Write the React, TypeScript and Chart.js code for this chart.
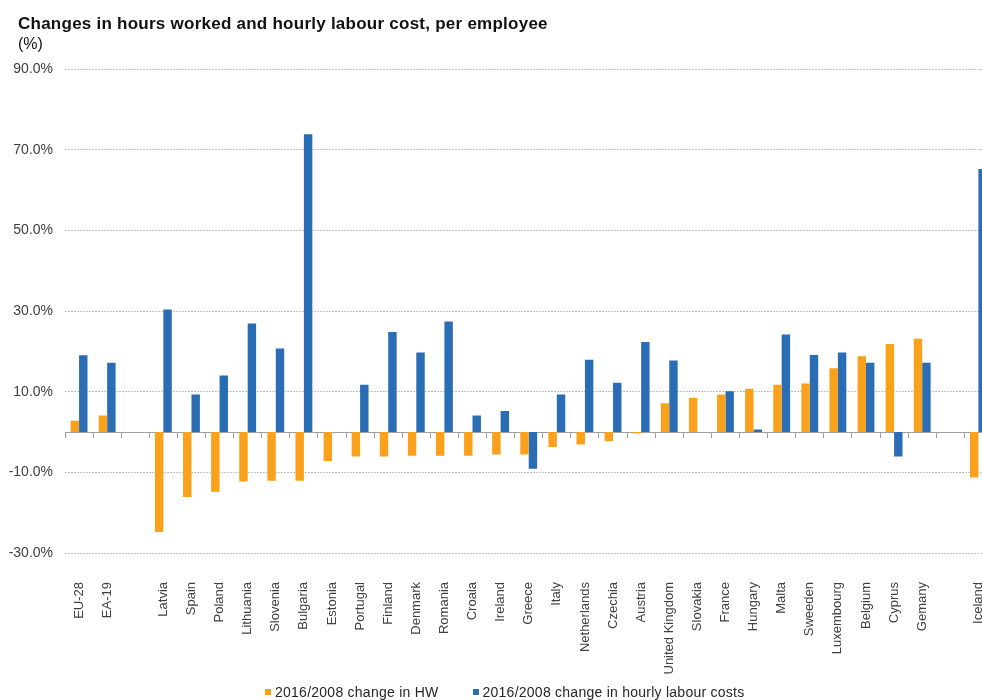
import React, { useEffect, useRef } from 'react';
import { Chart, registerables } from 'chart.js';

Chart.register(...registerables);

// Countries in display order; empty strings leave a gap between groups.
const categories = [
  'EU-28', 'EA-19', '', 'Latvia', 'Spain', 'Poland', 'Lithuania', 'Slovenia', 'Bulgaria',
  'Estonia', 'Portugal', 'Finland', 'Denmark', 'Romania', 'Croaia', 'Ireland', 'Greece',
  'Italy', 'Netherlands', 'Czechia', 'Austria', 'United Kingdom', 'Slovakia', 'France',
  'Hungary', 'Malta', 'Sweeden', 'Luxembourg', 'Belgium', 'Cyprus', 'Gemany', '', 'Iceland',
];

// 2016/2008 change in hours worked per employee (%)
const hoursWorked = [
  2.8, 4.1, null, -24.8, -16.1, -14.8, -12.3, -12.1, -12.1,
  -7.2, -6.1, -6.1, -5.9, -5.9, -5.9, -5.6, -5.6,
  -3.7, -3.1, -2.3, -0.4, 7.1, 8.5, 9.3,
  10.7, 11.7, 12.0, 15.8, 18.8, 21.8, 23.1, null, -11.3,
];

// 2016/2008 change in hourly labour costs (%)
const labourCost = [
  19.0, 17.2, null, 30.4, 9.3, 14.0, 26.9, 20.7, 73.8,
  null, 11.7, 24.8, 19.7, 27.4, 4.1, 5.2, -9.1,
  9.3, 17.9, 12.2, 22.3, 17.7, null, 10.1,
  0.6, 24.2, 19.1, 19.7, 17.2, -6.1, 17.2, null, 65.2,
];

const yTicks = [-30, -10, 10, 30, 50, 70, 90];

const series = [
  { label: '2016/2008 change in HW', color: '#f9a11b', data: hoursWorked },
  { label: '2016/2008 change in hourly labour costs', color: '#2a6db4', data: labourCost },
];

const FONT = '"Liberation Sans", Arial, Helvetica, sans-serif';
const TEXT = '#404040';

export default function App() {
  const canvasRef = useRef<HTMLCanvasElement>(null);

  useEffect(() => {
    const canvas = canvasRef.current;
    if (!canvas) return;
    const chart = new Chart(canvas, {
      type: 'bar',
      data: {
        labels: categories,
        datasets: series.map((s) => ({
          label: s.label,
          data: s.data,
          backgroundColor: s.color,
          borderWidth: 0,
        })),
      },
      options: {
        responsive: false,
        animation: false,
        layout: { padding: { top: 69, left: 7, right: 0, bottom: 0 } },
        datasets: { bar: { categoryPercentage: 0.6, barPercentage: 1 } },
        scales: {
          x: {
            grid: { display: false },
            border: { display: false },
            ticks: {
              autoSkip: false,
              minRotation: 90,
              maxRotation: 90,
              padding: 21,
              color: TEXT,
              font: { family: FONT, size: 13 },
            },
            afterFit: (scale: any) => {
              scale.height = 147;
            },
          },
          // zero line with category tick marks
          x0: {
            type: 'category',
            axis: 'x',
            position: { y: 0 },
            offset: true,
            grid: {
              offset: true,
              drawOnChartArea: false,
              drawTicks: true,
              tickLength: 5,
              color: '#a0a0a0',
            },
            border: { display: true, color: '#a0a0a0', width: 1 },
            ticks: { display: false },
          } as any,
          y: {
            min: -30,
            max: 90,
            afterBuildTicks: (scale: any) => {
              scale.ticks = yTicks.map((v) => ({ value: v }));
            },
            afterFit: (scale: any) => {
              scale.width = 58;
            },
            grid: { color: '#c4c4c4', drawTicks: false, lineWidth: 1 },
            border: { display: false, dash: [2, 1] },
            ticks: {
              padding: 12,
              color: TEXT,
              font: { family: FONT, size: 14 },
              callback: (v: any) => `${Number(v).toFixed(1)}%`,
            },
          },
        },
        plugins: {
          legend: { display: false },
          tooltip: { enabled: false },
        },
      },
    });
    return () => chart.destroy();
  }, []);

  return (
    <div
      style={{
        position: 'fixed',
        left: 0,
        top: 0,
        width: 982,
        height: 700,
        overflow: 'hidden',
        background: '#ffffff',
      }}
    >
      <canvas
        ref={canvasRef}
        width={1015}
        height={700}
        style={{ position: 'absolute', left: 0, top: 0, display: 'block' }}
      />
      <div
        style={{
          position: 'absolute',
          left: 18,
          top: 15,
          font: `bold 17px ${FONT}`,
          letterSpacing: '0.25px',
          lineHeight: '18px',
          color: '#111111',
          whiteSpace: 'nowrap',
        }}
      >
        Changes in hours worked and hourly labour cost, per employee
      </div>
      <div
        style={{
          position: 'absolute',
          left: 18,
          top: 34.5,
          font: `16px ${FONT}`,
          lineHeight: '18px',
          color: '#111111',
          whiteSpace: 'nowrap',
        }}
      >
        (%)
      </div>
      <div
        style={{
          position: 'absolute',
          left: 265,
          top: 684,
          display: 'flex',
          alignItems: 'center',
          font: `14px ${FONT}`,
          letterSpacing: '0.25px',
          lineHeight: '16px',
          color: '#262626',
          whiteSpace: 'nowrap',
        }}
      >
        {series.map((s, i) => (
          <span
            key={s.label}
            style={{ display: 'flex', alignItems: 'center', marginRight: i === 0 ? 34 : 0 }}
          >
            <span
              style={{
                display: 'inline-block',
                width: 6,
                height: 6,
                background: s.color,
                marginRight: 4,
              }}
            />
            {s.label}
          </span>
        ))}
      </div>
    </div>
  );
}
